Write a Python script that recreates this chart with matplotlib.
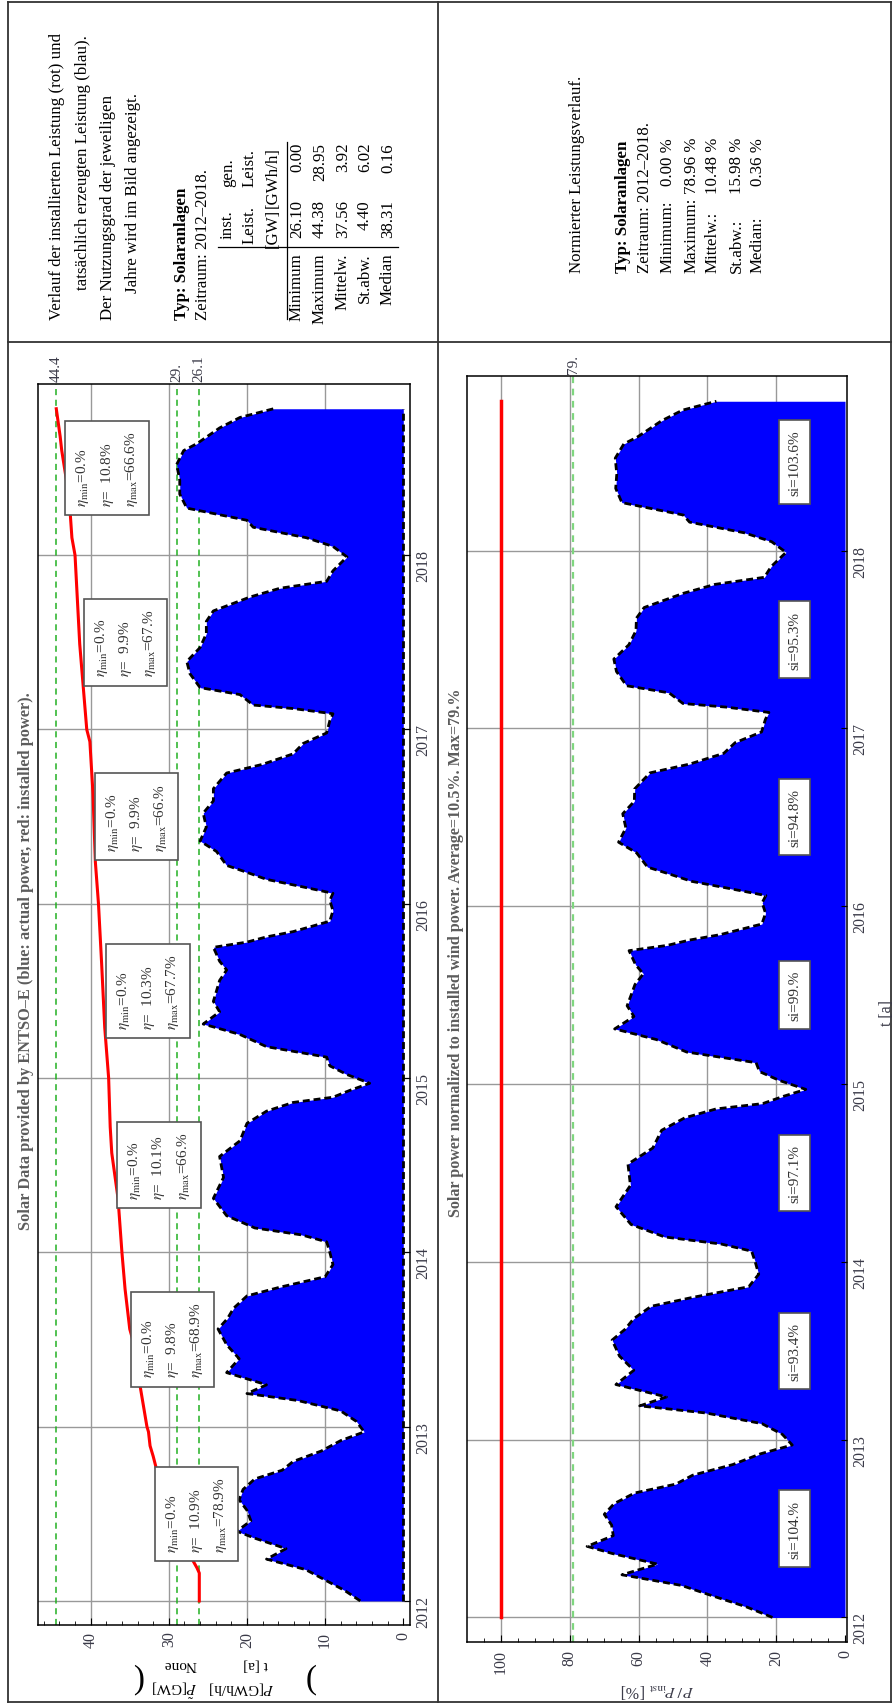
import numpy as np
import matplotlib.pyplot as plt
from matplotlib.lines import Line2D

plt.rcParams['font.family'] = ['Liberation Serif', 'DejaVu Serif']
plt.rcParams['mathtext.fontset'] = 'stix'

# installed solar power (red line), GW
inst_t = [2012.0, 2012.16, 2012.19, 2012.23, 2012.76, 2012.83, 2012.89, 2012.97, 2013.0,
          2013.24, 2013.48, 2013.56, 2013.79, 2014.0, 2014.31, 2014.57, 2014.72, 2015.0,
          2015.29, 2015.66, 2016.0, 2016.24, 2016.63, 2016.93, 2017.0, 2017.49, 2018.0,
          2018.10, 2018.23, 2018.43, 2018.60, 2018.68, 2018.84]
inst_v = [26.1, 26.1, 26.4, 26.9, 31.6, 32.0, 32.4, 32.6, 32.8,
          33.7, 34.5, 35.0, 35.6, 36.0, 36.5, 37.3, 37.5, 37.7,
          38.2, 38.6, 39.0, 39.4, 39.7, 40.1, 40.5, 41.4, 42.0,
          42.4, 42.6, 43.1, 43.7, 43.9, 44.4]

# upper envelope of generated power (blue area, dashed black line), GW
gen_t = [2012.00, 2012.06, 2012.12, 2012.18, 2012.24, 2012.30, 2012.36, 2012.40, 2012.46,
         2012.52, 2012.58, 2012.64, 2012.70, 2012.75, 2012.80, 2012.86, 2012.92, 2012.97,
         2013.03, 2013.09, 2013.15, 2013.19, 2013.24, 2013.31, 2013.39, 2013.47, 2013.56,
         2013.62, 2013.68, 2013.75, 2013.80, 2013.86, 2013.93, 2014.00, 2014.06, 2014.10,
         2014.14, 2014.21, 2014.31, 2014.43, 2014.55, 2014.64, 2014.74, 2014.81, 2014.86,
         2014.89, 2014.93, 2014.97, 2015.02, 2015.07, 2015.12, 2015.18, 2015.25, 2015.31,
         2015.38, 2015.44, 2015.50, 2015.56, 2015.62, 2015.67, 2015.75, 2015.78, 2015.81,
         2015.84, 2015.90, 2015.96, 2016.02, 2016.06, 2016.10, 2016.14, 2016.18, 2016.22,
         2016.30, 2016.36, 2016.44, 2016.52, 2016.59, 2016.66, 2016.75, 2016.80, 2016.86,
         2016.92, 2016.98, 2017.05, 2017.09, 2017.12, 2017.14, 2017.20, 2017.24, 2017.32,
         2017.39, 2017.47, 2017.55, 2017.62, 2017.68, 2017.76, 2017.81, 2017.85, 2017.91,
         2017.99, 2018.05, 2018.10, 2018.16, 2018.20, 2018.27, 2018.35, 2018.43, 2018.52,
         2018.60, 2018.64, 2018.73, 2018.79, 2018.84]
gen_v = [5.5, 7.5, 10.0, 12.5, 17.5, 15.0, 19.0, 21.3, 19.5,
         20.0, 21.0, 20.5, 19.0, 15.5, 14.1, 10.5, 8.0, 5.0,
         6.0, 8.0, 13.5, 20.0, 17.5, 22.6, 21.0, 22.6, 23.7,
         22.5, 21.7, 20.0, 15.8, 10.0, 9.0, 9.4, 9.8, 13.0,
         19.0, 22.6, 24.3, 23.0, 23.5, 20.9, 20.0, 17.5, 14.1,
         9.0, 6.8, 4.3, 7.2, 9.4, 9.8, 17.5, 20.9, 25.6,
         23.5, 24.3, 23.9, 23.5, 22.6, 23.5, 24.3, 20.0, 17.5,
         14.1, 9.4, 9.0, 9.4, 9.0, 13.2, 17.5, 20.0, 22.6,
         23.9, 26.0, 25.2, 25.6, 24.3, 24.3, 22.6, 18.0, 14.1,
         12.8, 9.8, 9.4, 9.0, 14.1, 19.2, 20.9, 26.0, 27.3,
         27.7, 26.0, 25.2, 25.2, 24.3, 19.6, 15.8, 9.8, 9.0,
         7.2, 9.0, 12.4, 19.2, 20.0, 27.7, 28.6, 28.6, 29.0,
         28.1, 26.4, 23.5, 20.9, 16.6]

years = [2012, 2013, 2014, 2015, 2016, 2017, 2018]
eta_mean = ['10.9', '9.8', '10.1', '10.3', '9.9', '9.9', '10.8']
eta_max = ['78.9', '68.9', '66.', '67.7', '66.', '67.', '66.6']
si_vals = ['104.', '93.4', '97.1', '99.', '94.8', '95.3', '103.6']
ref1 = [44.4, 29.0, 26.1]
ref1_lab = ['44.4', '29.', '26.1']
ref2 = [79.0]
ref2_lab = ['79.']

stat_names = ['Minimum', 'Maximum', 'Mittelw.', 'St.abw.', 'Median']
stat_inst = ['26.10', '44.38', '37.56', '4.40', '38.31']
stat_gen = ['0.00', '28.95', '3.92', '6.02', '0.16']
stat_names2 = ['Minimum:', 'Maximum:', 'Mittelw.:', 'St.abw.:', 'Median:']
stat_norm = ['0.00 %', '78.96 %', '10.48 %', '15.98 %', '0.36 %']

# normalized power in percent of installed power
gen_pct = np.array(gen_v) / np.interp(gen_t, inst_t, inst_v) * 100

W, H = 893, 1706
fig = plt.figure(figsize=(W / 100, H / 100), dpi=100)


def fxy(x, y):
    return x / W, 1 - y / H


def put(x, y, s, **kw):
    kw.setdefault('rotation', 90)
    kw.setdefault('rotation_mode', 'anchor')
    kw.setdefault('va', 'center')
    kw.setdefault('fontsize', 12.2)
    fig.text(*fxy(x, y), s, **kw)


# table frame of the page
for (x0, y0, x1, y1) in [(8, 3, 891, 3), (8, 1703, 891, 1703), (8, 3, 8, 1703),
                         (891, 3, 891, 1703), (438, 3, 438, 1703), (8, 343, 891, 343)]:
    fig.add_artist(Line2D([x0 / W, x1 / W], [1 - y0 / H, 1 - y1 / H], color='#333333', lw=1.3))

grid_c = '#999999'
lab_c = '#3a3a48'
title_c = '#5c5c5c'
box = dict(boxstyle='square,pad=0.6', fc='white', ec='#555555', lw=1.2)

# ---------- panel 1 ----------
ax1 = fig.add_axes([38.3 / W, 1 - 1626 / H, 371.7 / W, 1241 / H])
ax1.set_xlim(46.7, -0.86)
ax1.set_ylim(2011.862, 2018.982)
for v in [10, 20, 30, 40]:
    ax1.axvline(v, color=grid_c, lw=1, zorder=0.5)
for yr in years:
    ax1.axhline(yr, color=grid_c, lw=1, zorder=0.5)
for v in ref1:
    ax1.axvline(v, color='#22b022', lw=1.1, ls=(0, (4, 3)), zorder=0.8)
ax1.fill_betweenx(gen_t, 0, gen_v, color='#0000ff', lw=0, zorder=1)
ax1.plot(gen_v, gen_t, color='black', lw=2, ls=(0, (2.5, 1.4)), zorder=2)
ax1.plot([0, 0], [gen_t[0], gen_t[-1]], color='black', lw=2, ls=(0, (2.5, 1.4)), zorder=2)
ax1.plot(inst_v, inst_t, color='#ff0000', lw=2.2, zorder=2.5)

box_v = [26.45, 29.53, 31.26, 32.66, 34.14, 35.54, 37.9]
for i, yr in enumerate(years):
    txt = (r'$\eta_{\rm min}$=0.%' + '\n' + r'$\eta$=  ' + eta_mean[i] + '%\n'
           + r'$\eta_{\rm max}$=' + eta_max[i] + '%')
    ax1.text(box_v[i], yr + 0.5, txt, rotation=90, ha='center', va='center',
             multialignment='left', fontsize=11, color='#333333', linespacing=1.6,
             bbox=box, zorder=4)

for v, s in zip(ref1, ref1_lab):
    ax1.annotate(s, (v, 2018.982), xytext=(0, 2), textcoords='offset points',
                 rotation=90, rotation_mode='anchor', ha='left', va='center',
                 fontsize=11, color=lab_c)

ax1.set_xticks([0, 10, 20, 30, 40])
ax1.set_xticks(np.arange(0, 47, 2), minor=True)
ax1.set_yticks(years)
ax1.yaxis.tick_right()
ax1.tick_params(axis='x', which='both', direction='in', labelrotation=90, labelsize=11.5,
                labelcolor=lab_c, pad=4)
ax1.tick_params(axis='x', which='major', length=5)
ax1.tick_params(axis='x', which='minor', length=3)
ax1.tick_params(axis='y', direction='in', length=4, labelrotation=90, labelsize=11.5,
                labelcolor=lab_c, pad=4)
for sp in ax1.spines.values():
    sp.set_linewidth(1.1)

put(26, 961, 'Solar Data provided by ENTSO–E (blue: actual power, red: installed power).',
    ha='center', fontweight='bold', color=title_c, fontsize=11.8)

# axis label of panel 1 (rotated with the page)
put(241, 1688, r'$P$[GWh/h]', rotation=180, ha='center', fontsize=11)
put(174, 1688, r'$\tilde{P}$[GW]', rotation=180, ha='center', fontsize=11)
put(256, 1665, 't [a]', rotation=180, ha='center', fontsize=11)
put(180, 1665, 'None', rotation=180, ha='center', fontsize=11)
put(137, 1678, '(', rotation=180, ha='center', fontsize=24, fontweight='light')
put(309, 1678, ')', rotation=180, ha='center', fontsize=24, fontweight='light')

# ---------- panel 2 ----------
ax2 = fig.add_axes([467 / W, 1 - 1643 / H, 380 / W, 1266 / H])
ax2.set_xlim(109.9, -0.58)
ax2.set_ylim(2011.862, 2018.982)
for v in [20, 40, 60, 80, 100]:
    ax2.axvline(v, color=grid_c, lw=1, zorder=0.5)
for yr in years:
    ax2.axhline(yr, color=grid_c, lw=1, zorder=0.5)
for v in ref2:
    ax2.axvline(v, color='#7fd67f', lw=1.6, ls=(0, (3, 2.5)), zorder=0.8)
ax2.fill_betweenx(gen_t, 0, gen_pct, color='#0000ff', lw=0, zorder=1)
ax2.plot(gen_pct, gen_t, color='black', lw=2, ls=(0, (2.5, 1.4)), zorder=2)
ax2.plot([100] * len(inst_t), inst_t, color='#ff0000', lw=2.5, zorder=2.5)

for i, yr in enumerate(years):
    ax2.text(14.7, yr + 0.5, 'si=' + si_vals[i] + '%', rotation=90, ha='center', va='center',
             fontsize=11, color='#333333', bbox=box, zorder=4)

for v, s in zip(ref2, ref2_lab):
    ax2.annotate(s, (v, 2018.982), xytext=(0, 2), textcoords='offset points',
                 rotation=90, rotation_mode='anchor', ha='left', va='center',
                 fontsize=11, color=lab_c)

ax2.set_xticks([0, 20, 40, 60, 80, 100])
ax2.set_xticks(np.arange(0, 110, 5), minor=True)
ax2.set_yticks(years)
ax2.yaxis.tick_right()
ax2.tick_params(axis='x', which='both', direction='in', labelrotation=90, labelsize=11.5,
                labelcolor=lab_c, pad=5)
ax2.tick_params(axis='x', which='major', length=5)
ax2.tick_params(axis='x', which='minor', length=3)
ax2.tick_params(axis='y', direction='in', length=4, labelrotation=90, labelsize=11.5,
                labelcolor=lab_c, pad=4)
for sp in ax2.spines.values():
    sp.set_linewidth(1.1)

put(456, 953, 'Solar power normalized to installed wind power. Average=10.5%. Max=79.%',
    ha='center', fontweight='bold', color=title_c, fontsize=11.6)
put(657, 1690, r'$P\,/\,P_{\rm inst}$ [%]', rotation=180, ha='center', fontsize=11.5, color=lab_c)
put(887, 1013, 't [a]', ha='center', fontsize=11.5, color=lab_c)

# ---------- text cells ----------
put(57, 320, 'Verlauf der installierten Leistung (rot) und', ha='left')
put(83, 290, 'tatsächlich erzeugten Leistung (blau).', ha='left')
put(108, 320, 'Der Nutzungsgrad der jeweiligen', ha='left')
put(133, 293, 'Jahre wird im Bild angezeigt.', ha='left')
put(182, 320, 'Typ: Solaranlagen', ha='left', fontweight='bold')
put(203, 320, 'Zeitraum: 2012–2018.', ha='left')

put(228, 225, 'inst.', ha='center')
put(228, 173, 'gen.', ha='center')
put(250, 225, 'Leist.', ha='center')
put(250, 168, 'Leist.', ha='center')
put(273, 228, '[GW]', ha='center')
put(273, 178, '[GWh/h]', ha='center')
fig.add_artist(Line2D([287 / W, 287 / W], [1 - 143 / H, 1 - 320 / H], color='black', lw=0.9))
fig.add_artist(Line2D([218 / W, 398 / W], [1 - 248 / H, 1 - 248 / H], color='black', lw=0.9))
row_x = [297, 320, 343, 365, 388]
for i in range(5):
    put(row_x[i], 253, stat_names[i], ha='right')
    put(row_x[i], 200, stat_inst[i], ha='right')
    put(row_x[i], 143, stat_gen[i], ha='right')

put(577, 273, 'Normierter Leistungsverlauf.', ha='left')
put(623, 273, 'Typ: Solaranlagen', ha='left', fontweight='bold')
put(645, 273, 'Zeitraum: 2012–2018.', ha='left')
row_x2 = [668, 692, 713, 737, 758]
for i in range(5):
    put(row_x2[i], 273, stat_names2[i], ha='left')
    put(row_x2[i], 138, stat_norm[i], ha='right')

fig.savefig('out.png', dpi=100)
